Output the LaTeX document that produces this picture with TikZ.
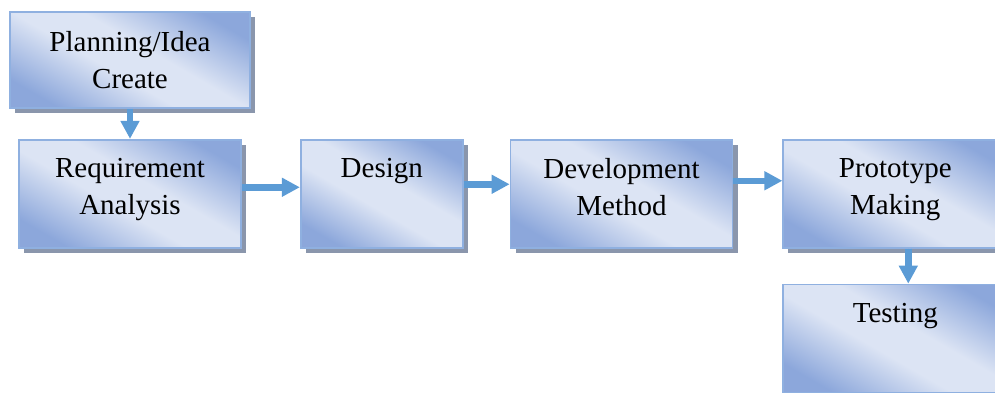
\documentclass[tikz,border=0pt]{standalone}
\usepackage{fontspec}
\setmainfont{Liberation Serif}
\usepackage{xcolor}
\usepackage{tikz}
\usetikzlibrary{positioning, arrows.meta}

\definecolor{boxdark}{HTML}{8CA7DB}
\definecolor{boxlight}{HTML}{DCE4F4}
\definecolor{boxline}{HTML}{8FB0E0}
\definecolor{boxshadow}{HTML}{8A96AC}
\definecolor{arrowblue}{HTML}{5B9BD5}

% dark corners, wide light band across the middle
\pgfdeclarehorizontalshading{stagefill}{100bp}{color(0bp)=(boxdark);
  color(24bp)=(boxdark); color(44bp)=(boxlight); color(56bp)=(boxlight);
  color(76bp)=(boxdark); color(100bp)=(boxdark)}

\begin{document}
\begin{tikzpicture}[
  stage/.style={draw=boxline, line width=1pt,
                preaction={fill=boxshadow,
                           transform canvas={shift={(0.1cm,-0.1cm)}}},
                shade, shading=stagefill, shading angle=60,
                minimum width=4.44cm, minimum height=2.16cm},
  txt/.style={anchor=north, align=center, inner sep=0pt, yshift=-0.39cm,
              font=\fontsize{16.5}{21}\selectfont},
  arr/.style={-{Triangle[width=0.36cm, length=0.36cm]}, draw=arrowblue,
              fill=arrowblue, line width=0.13cm},
  node distance=0.6cm
]

\useasboundingbox (0,0) rectangle (19.9,-7.84);
\clip (0,0) rectangle (19.9,-7.84);

% Stages
\node[stage, minimum width=4.8cm, minimum height=1.92cm,
      label={[txt]north:Planning/Idea\\Create}] (plan) at (2.6,-1.2) {};
\node[stage, below=0.6cm of plan,
      label={[txt]north:Requirement\\Analysis}] (req) {};
\node[stage, minimum width=3.24cm, right=1.16cm of req,
      label={[txt]north:Design}] (design) {};
\node[stage, right=0.92cm of design,
      label={[txt]north:Development\\Method}] (dev) {};
\node[stage, minimum width=4.48cm, right=0.98cm of dev,
      label={[txt]north:Prototype\\Making}] (proto) {};
\node[stage, minimum width=4.48cm, below=0.7cm of proto,
      label={[txt]north:Testing}] (test) {};

% Arrows
\draw[arr] (plan.south) -- (plan.south |- req.north);
\draw[arr] ([yshift=0.13cm]req.east) -- ([yshift=0.13cm]req.east -| design.west);
\draw[arr] ([yshift=0.19cm]design.east) -- ([yshift=0.19cm]design.east -| dev.west);
\draw[arr] ([yshift=0.26cm]dev.east) -- ([yshift=0.26cm]dev.east -| proto.west);
\draw[arr] ([xshift=0.26cm]proto.south) -- ([xshift=0.26cm]test.north);

\end{tikzpicture}
\end{document}
